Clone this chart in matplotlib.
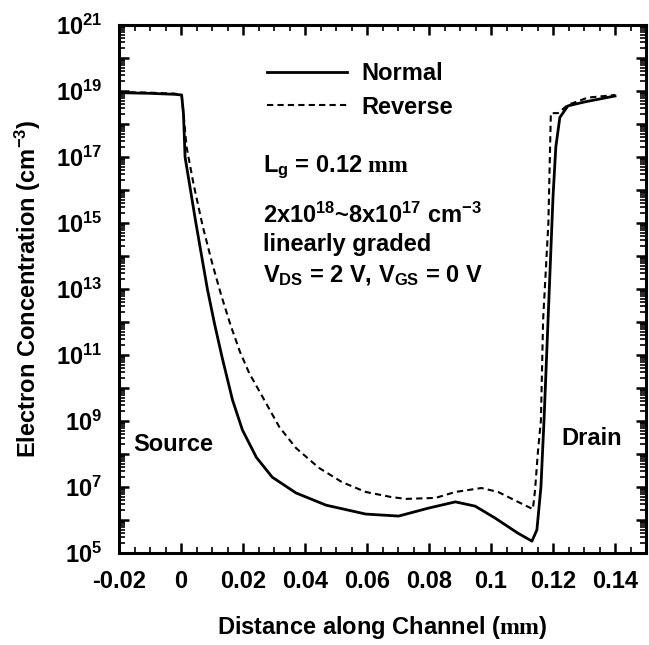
import numpy as np
import matplotlib
matplotlib.use('Agg')
import matplotlib.pyplot as plt
from matplotlib.ticker import LogLocator, MultipleLocator, FuncFormatter, NullFormatter

# distance along channel (um) and log10 of electron concentration (cm^-3)
normal_x = [-0.02, -0.01, -0.002, 0.0002, 0.0008, 0.0013, 0.0048, 0.0085, 0.0108, 0.0132,
            0.0166, 0.0198, 0.0243, 0.0294, 0.0371, 0.0468, 0.0596, 0.0702, 0.0798, 0.0885,
            0.0949, 0.1013, 0.1087, 0.1132, 0.1148, 0.1161, 0.1171, 0.1184, 0.12, 0.1209,
            0.1222, 0.1248, 0.1302, 0.14]
normal_log = [18.95, 18.93, 18.9, 18.88, 18.3, 17.0, 15.0, 13.0, 11.95, 10.95,
              9.64, 8.73, 7.9, 7.3, 6.82, 6.45, 6.18, 6.12, 6.36, 6.55,
              6.42, 6.06, 5.6, 5.36, 5.7, 7.0, 9.03, 12.06, 15.8, 17.3,
              18.2, 18.55, 18.67, 18.85]

reverse_x = [-0.02, -0.01, -0.002, 0.0002, 0.0018, 0.004, 0.007, 0.010, 0.013, 0.016,
             0.019, 0.022, 0.0253, 0.0317, 0.0371, 0.0445, 0.0519, 0.0596, 0.0676, 0.0725,
             0.0821, 0.0885, 0.0969, 0.1023, 0.1087, 0.1135, 0.1142, 0.1151, 0.1161, 0.1168,
             0.1185, 0.1193, 0.1216, 0.1248, 0.1312, 0.14]
reverse_log = [18.97, 18.95, 18.92, 18.88, 17.3, 16.2, 14.9, 13.8, 12.8, 11.9,
               11.1, 10.45, 9.9, 8.82, 8.18, 7.58, 7.15, 6.85, 6.7, 6.64,
               6.67, 6.85, 6.97, 6.85, 6.55, 6.33, 6.9, 8.03, 9.03, 12.06,
               15.0, 18.33, 18.33, 18.58, 18.8, 18.88]

xticks = [-0.02, 0, 0.02, 0.04, 0.06, 0.08, 0.1, 0.12, 0.14]
xticklabels = ['-0.02', '0', '0.02', '0.04', '0.06', '0.08', '0.1', '0.12', '0.14']


def main():
	plt.rcParams['font.family'] = 'Liberation Sans'
	plt.rcParams['font.weight'] = 'bold'
	plt.rcParams['axes.labelweight'] = 'bold'
	plt.rcParams['mathtext.fontset'] = 'custom'
	plt.rcParams['mathtext.rm'] = 'Liberation Sans:bold'
	plt.rcParams['mathtext.it'] = 'Liberation Sans:bold'
	plt.rcParams['mathtext.bf'] = 'Liberation Sans:bold'
	plt.rcParams['mathtext.sf'] = 'Liberation Serif'
	plt.rcParams['mathtext.default'] = 'rm'

	fig = plt.figure(figsize=(6.49, 6.45), dpi=100)
	ax = fig.add_axes([0.1834, 0.1426, 0.8120, 0.8186])

	ax.plot(normal_x, 10 ** np.array(normal_log), color='black', lw=2.0, label='Normal')
	ax.plot(reverse_x, 10 ** np.array(reverse_log), color='black', lw=1.5,
			linestyle=(0, (3, 2)), label='Reverse')

	ax.set_yscale('log')
	ax.set_xlim(-0.02, 0.15)
	ax.set_ylim(1e5, 1e21)

	ax.yaxis.set_major_locator(LogLocator(base=10, numticks=30))
	ax.yaxis.set_minor_locator(LogLocator(base=10, subs=np.arange(2, 10), numticks=30))
	ax.yaxis.set_major_formatter(FuncFormatter(
		lambda v, p: r'$10^{%d}$' % round(np.log10(v)) if round(np.log10(v)) % 2 == 1 else ''))
	ax.yaxis.set_minor_formatter(NullFormatter())

	ax.set_xticks(xticks)
	ax.set_xticklabels(xticklabels)
	ax.xaxis.set_minor_locator(MultipleLocator(0.005))

	for s in ax.spines.values():
		s.set_linewidth(2.2)
	ax.tick_params(which='both', direction='in', top=True, right=True, labelsize=17)
	ax.tick_params(which='major', length=7, width=1.8)
	ax.tick_params(which='minor', length=4, width=1.2)
	ax.tick_params(axis='x', pad=12)
	ax.tick_params(axis='y', pad=12)

	ax.set_xlabel(r'Distance along Channel ($\mathsf{mm}$)', fontsize=17, labelpad=15)
	ax.set_ylabel(r'Electron Concentration (cm$^{-3}$)', fontsize=17, labelpad=9)

	ax.legend(loc='upper left', bbox_to_anchor=(0.28, 0.93), frameon=False, fontsize=17,
			  handlelength=3.4, handletextpad=0.6, labelspacing=0.45, borderpad=0, borderaxespad=0)

	kw = dict(transform=ax.transAxes, fontsize=17, va='baseline', ha='left')
	ax.text(0.273, 0.7216, r'L$_g$ = 0.12 $\mathsf{mm}$', **kw)
	ax.text(0.273, 0.625, r'2x10$^{18}$~8x10$^{17}$ cm$^{-3}$', **kw)
	ax.text(0.273, 0.572, 'linearly graded', **kw)
	ax.text(0.273, 0.513, r'V$_{DS}$ = 2 V, V$_{GS}$ = 0 V', **kw)
	ax.text(0.027, 0.193, 'Source', **kw)
	ax.text(0.839, 0.2045, 'Drain', **kw)

	fig.savefig('out.png', dpi=100)


if __name__ == '__main__':
	main()
